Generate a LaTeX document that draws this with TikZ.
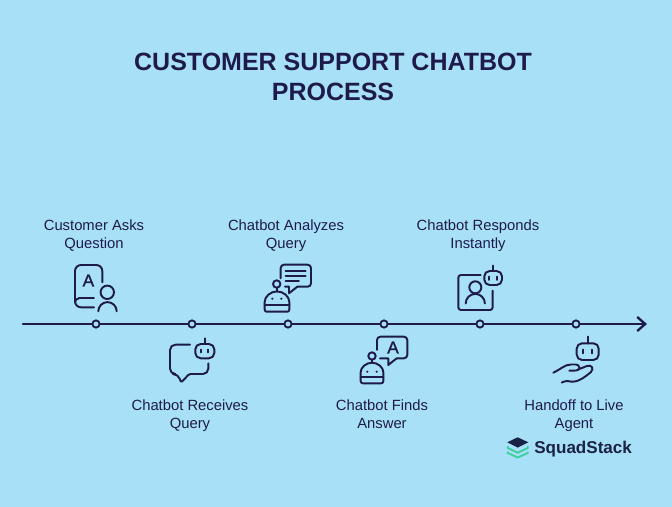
\documentclass[tikz,border=0pt]{standalone}
\usepackage{fontspec}
\setmainfont{Liberation Sans}
\usepackage[dvipsnames]{xcolor}
\usetikzlibrary{calc,arrows.meta}
\definecolor{skybg}{HTML}{A8E0F8}
\definecolor{inkdark}{HTML}{1E1B4B}
\definecolor{logodark}{HTML}{1A2344}
\definecolor{logogreen}{HTML}{3ECF9E}
\tikzset{
    iconline/.style={draw=inkdark, line width=1.45pt, line cap=round, line join=round},
    stepdot/.style={circle, draw=inkdark, line width=1.4pt, fill=skybg, inner sep=0pt, minimum size=5.4pt},
    steplabel/.style={anchor=north, align=center, inner sep=0pt, text=inkdark, font=\fontsize{11.1}{13.5}\selectfont, execute at begin node=\strut},
    iconletter/.style={text=inkdark, inner sep=0pt, font=\fontsize{13}{13}\selectfont\addfontfeature{FakeBold=1.2}},
}

\begin{document}
\begin{tikzpicture}[x=0.75pt, y=-0.75pt]  % 1 unit = 1 px of the picture
    \useasboundingbox[fill=skybg] (0,0) rectangle (672,507);

    % title
    \node[align=center, text=inkdark, font=\fontsize{18.75}{22.5}\selectfont\bfseries] (title) at (333,77) {CUSTOMER SUPPORT CHATBOT\\PROCESS};

    % time axis
    \coordinate (axisstart) at (23,324);
    \coordinate (axisend) at (647,324);
    \draw[line width=1.75pt, draw=inkdark, line cap=round, -{Straight Barb[length=6pt, width=10.5pt, line width=1.75pt]}] (axisstart) -- (axisend);
    \foreach \i/\px in {1/96, 2/192, 3/288, 4/384, 5/480, 6/576}
        \node[stepdot] (dot\i) at (\px,324) {};

    % labels
    \node[steplabel] (asks) at (94,219.4) {Customer Asks\\Question};
    \node[steplabel] (receives) at (190,399.4) {Chatbot Receives\\Query};
    \node[steplabel] (analyzes) at (286,219.4) {Chatbot Analyzes\\Query};
    \node[steplabel] (finds) at (382,399.4) {Chatbot Finds\\Answer};
    \node[steplabel] (responds) at (478,219.4) {Chatbot Responds\\Instantly};
    \node[steplabel] (handoff) at (574,399.4) {Handoff to Live\\Agent};

    % icon 1: book and person
    \draw[iconline, rounded corners=4.5] (102.3,282.3) -- (102.3,265) -- (75,265) -- (75,307.3) -- (94,307.3);
    \draw[iconline] (79,298.3) -- (94,298.3);
    \draw[iconline] (79,298.3) arc[start angle=270, end angle=180, radius=4];
    \node[iconletter] (letterbook) at (88.4,280.5) {A};
    \draw[iconline] (107.3,292.3) circle[radius=6.7];
    \draw[iconline] (98.3,311.3) arc[start angle=180, end angle=360, radius=9.2];

    % icon 2: speech bubble and bot
    \draw[iconline, rounded corners=4] (190,344.7) -- (170,344.7) -- (170,374) -- (178.3,374) [rounded corners=1] -- (181,382.5) -- (189.3,374) [rounded corners=4] -- (208.3,374) -- (208.3,363.3);
    \draw[iconline, rounded corners=4] (195.3,344) rectangle (214.3,358.3);
    \draw[iconline] (204.7,338.3) -- (204.7,344);
    \draw[iconline] (201.2,349.5) -- (201.2,352.5) (208,349.5) -- (208,352.5);

    % icon 3: bot and text bubble
    \draw[iconline, rounded corners=2.5] (280.7,278.3) -- (280.7,264.7) -- (311,264.7) -- (311,286.7) -- (297.3,286.7);
    \draw[iconline] (297.3,286.7) -- (289,293.3) -- (289,286.7) -- (285,286.7);
    \draw[iconline] (285.7,270.7) -- (305.7,270.7) (285.7,275.7) -- (305.7,275.7) (285.7,281) -- (299,281);
    \draw[iconline] (276.7,284) circle[radius=3.7];
    \draw[iconline] (276.7,287.7) -- (276.7,291.7);
    \draw[iconline, rounded corners=1.5] (264.7,303.7) arc[start angle=180, end angle=360, radius=12.3] -- (289.3,311.7) -- (264.7,311.7) -- cycle;
    \draw[iconline] (264.7,305) -- (289.3,305);
    \fill[inkdark] (272.3,298.7) circle[radius=1.2] (281.3,298.7) circle[radius=1.2];

    % icon 4: bot and letter bubble
    \draw[iconline, rounded corners=2.5] (377,350) -- (377,336.7) -- (407.3,336.7) -- (407.3,358.3) -- (396.7,358.3);
    \draw[iconline] (396.7,358.3) -- (388.3,365) -- (388.3,358.3) -- (380,358.3);
    \node[iconletter] (letterbubble) at (393,347.5) {A};
    \draw[iconline] (372,356) circle[radius=3.7];
    \draw[iconline] (372,359.7) -- (372,362.7);
    \draw[iconline, rounded corners=1.5] (360.7,374) arc[start angle=180, end angle=360, radius=11.3] -- (383.3,383.3) -- (360.7,383.3) -- cycle;
    \draw[iconline] (360.7,376.7) -- (383.3,376.7);
    \fill[inkdark] (367.3,371.7) circle[radius=1.2] (376.7,371.7) circle[radius=1.2];

    % icon 5: framed person and bot
    \draw[iconline, rounded corners=2] (480.7,275) -- (458.3,275) -- (458.3,310) -- (492.7,310) -- (492.7,290.7);
    \draw[iconline] (475.3,287.3) circle[radius=6];
    \draw[iconline] (465.7,303.5) arc[start angle=180, end angle=360, radius=9.6];
    \draw[iconline, rounded corners=4] (484.3,271) rectangle (502,285);
    \draw[iconline] (493,265.7) -- (493,271);
    \draw[iconline] (489,276.7) -- (489,280) (496.7,276.7) -- (496.7,280);

    % icon 6: hand holding bot
    \draw[iconline, rounded corners=4] (576.7,343.3) rectangle (598.7,360);
    \draw[iconline] (587.7,336.7) -- (587.7,343.3);
    \draw[iconline] (583.3,349.5) -- (583.3,353.5) (592,349.5) -- (592,353.5);
    \draw[iconline] (553.3,372.7) .. controls (561,369) and (565,364.5) .. (571,364.5) -- (576,364.5) .. controls (580,364.5) and (581,370.5) .. (576,370.5) -- (569.3,370.7);
    \draw[iconline] (578,369.5) -- (587,366) .. controls (592,364.5) and (594,368.5) .. (591,372) .. controls (586,376) and (580,381.7) .. (572,381.7) -- (567,381) .. controls (565,381) and (563,382) .. (561.7,382.6);

    % logo
    \fill[logodark] (507.3,442.3) -- (517.7,437.3) -- (528.3,442.3) -- (517.7,447.6) -- cycle;
    \draw[logogreen, line width=1.4pt] (507.8,446) -- (507.8,448) -- (517.7,452.7) -- (527.8,448) -- (527.8,446);
    \draw[logogreen, line width=1.4pt] (507.8,451.5) -- (507.8,453) -- (517.7,457.5) -- (527.8,453) -- (527.8,451.5);
    \node[anchor=west, inner sep=0pt, text=logodark, font=\fontsize{12.8}{16}\selectfont\bfseries] (logotext) at (534,449) {SquadStack};
\end{tikzpicture}
\end{document}
